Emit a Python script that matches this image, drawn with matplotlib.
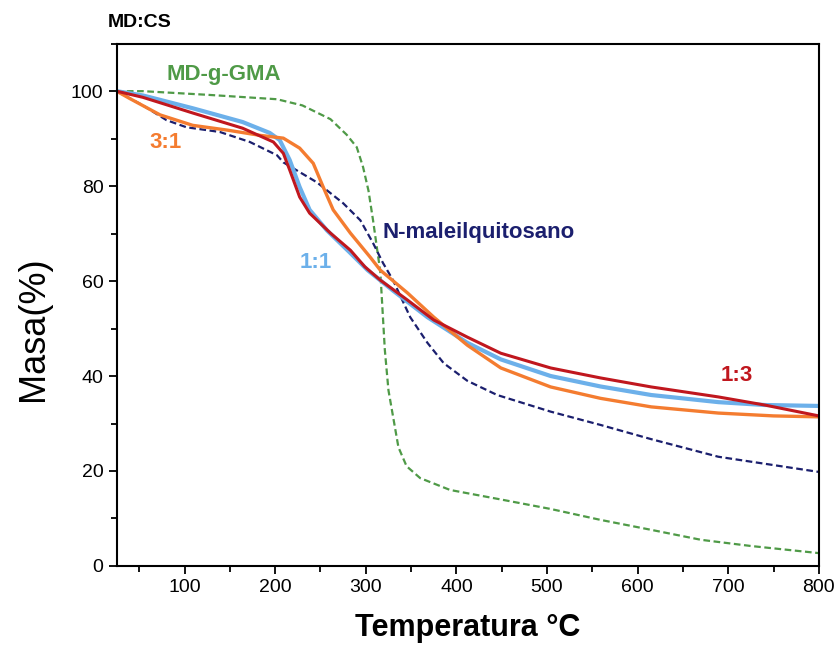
import numpy as np
import matplotlib.pyplot as plt
from matplotlib.ticker import MultipleLocator

plt.rcParams['font.family'] = ['Liberation Sans', 'DejaVu Sans']

# MD-g-GMA (green dashed)
t_gma = [25, 54, 128, 202, 230, 261, 279, 290, 297, 303, 308, 313, 316, 321, 325, 336, 345, 360, 393, 449, 504, 559, 615, 670, 725, 800]
m_gma = [100, 100, 99.2, 98.3, 97, 94.1, 90.8, 88.2, 84, 79, 72.8, 66, 62, 45.5, 37, 25, 21, 18.5, 16, 14, 12, 9.7, 7.6, 5.5, 4.2, 2.7]

# N-maleilquitosano (navy dashed)
t_nmq = [25, 54, 80, 102, 139, 172, 202, 209, 246, 275, 294, 308, 319, 330, 349, 368, 386, 412, 445, 504, 559, 615, 689, 800]
m_nmq = [100, 97, 93.9, 92.4, 91.4, 89.3, 86.5, 85, 80.8, 76.4, 72.8, 68, 63.8, 60.2, 52.4, 47, 42.7, 39, 36, 32.5, 29.7, 26.7, 23, 19.8]

# 3:1 (orange)
t_31 = [25, 39, 73, 109, 147, 183, 209, 227, 242, 253, 264, 283, 305, 316, 346, 375, 412, 449, 504, 559, 615, 689, 750, 800]
m_31 = [100, 98.5, 95, 92.8, 91.8, 90.7, 90.1, 88, 84.8, 79.8, 75, 70.1, 65, 62.3, 57.5, 52.4, 46.5, 41.7, 37.7, 35.3, 33.5, 32.2, 31.6, 31.4]

# 1:3 (red)
t_13 = [25, 54, 109, 164, 198, 209, 216, 227, 238, 261, 283, 299, 316, 346, 375, 412, 449, 504, 559, 615, 689, 740, 800]
m_13 = [100, 98.7, 95.4, 92.2, 89.3, 86.9, 83.4, 77.7, 74.3, 70.1, 66.5, 63, 60.2, 56, 51.8, 48.2, 44.8, 41.7, 39.6, 37.7, 35.6, 33.9, 31.6]

# 1:1 (light blue)
t_11 = [25, 54, 109, 164, 194, 205, 216, 227, 238, 257, 283, 302, 330, 368, 412, 449, 504, 559, 615, 689, 740, 800]
m_11 = [100, 99.1, 96.4, 93.5, 91.2, 89.7, 85.5, 79.8, 75, 70.7, 65.9, 62.3, 58, 52.4, 47, 43.5, 40, 37.8, 36, 34.5, 33.9, 33.7]

fig = plt.figure(figsize=(8.39, 6.52), dpi=100)
ax = fig.add_axes([0.139, 0.132, 0.837, 0.801])

ax.plot(t_gma, m_gma, color='#4f9a47', lw=1.6, ls=(0, (3, 1.6)))
ax.plot(t_nmq, m_nmq, color='#1b1f6e', lw=1.6, ls=(0, (3, 1.6)))
ax.plot(t_11, m_11, color='#6cb0ea', lw=3)
ax.plot(t_31, m_31, color='#f47c30', lw=2.4)
ax.plot(t_13, m_13, color='#c0171e', lw=2.2)

ax.text(143, 103.6, 'MD-g-GMA', color='#4f9a47', fontsize=16, fontweight='bold', ha='center', va='center')
ax.text(79, 89.2, '3:1', color='#f47c30', fontsize=16, fontweight='bold', ha='center', va='center')
ax.text(245, 64, '1:1', color='#6cb0ea', fontsize=16, fontweight='bold', ha='center', va='center')
ax.text(318, 70.3, 'N-maleilquitosano', color='#1b1f6e', fontsize=16, fontweight='bold', ha='left', va='center')
ax.text(709, 40.2, '1:3', color='#c0171e', fontsize=16, fontweight='bold', ha='center', va='center')

ax.set_xlim(25, 800)
ax.set_ylim(0, 110)
ax.set_xticks([100, 200, 300, 400, 500, 600, 700, 800])
ax.set_yticks([0, 20, 40, 60, 80, 100])
ax.xaxis.set_minor_locator(MultipleLocator(50))
ax.yaxis.set_minor_locator(MultipleLocator(10))
ax.tick_params(which='major', direction='out', length=6, width=1.3, labelsize=14)
ax.tick_params(which='minor', direction='out', length=4, width=1.3)
for s in ax.spines.values():
    s.set_linewidth(1.5)

ax.set_xlabel('Temperatura °C', fontsize=22, fontweight='bold', labelpad=12)
ax.set_ylabel('Masa(%)', fontsize=26)
ax.yaxis.set_label_coords(-0.094, 0.454)
fig.text(0.129, 0.965, 'MD:CS', fontsize=14, fontweight='bold', ha='left', va='center')

fig.savefig('out.png', dpi=100)
